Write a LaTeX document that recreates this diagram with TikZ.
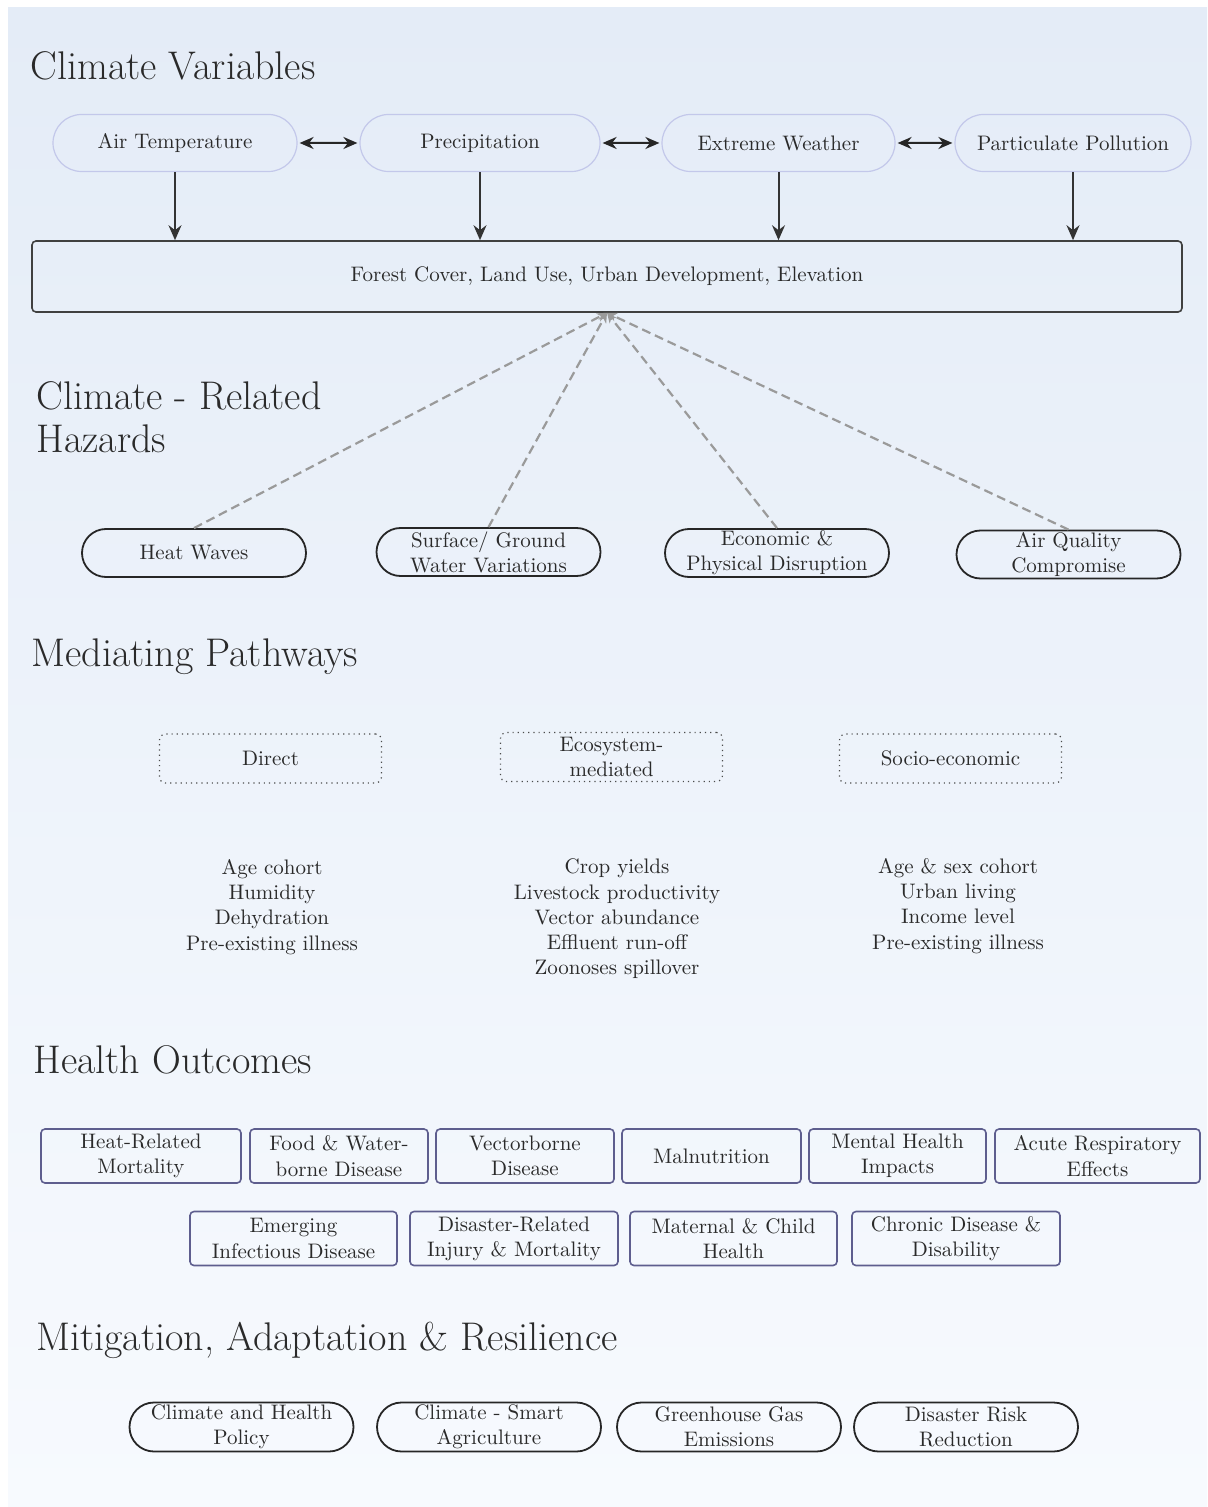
\documentclass[tikz,border=0pt]{standalone}
\usetikzlibrary{shapes.misc,arrows.meta}
\definecolor{inkgray}{HTML}{2A2A2A}
\definecolor{bgtop}{HTML}{E4ECF7}
\definecolor{bgbot}{HTML}{F7FAFE}
\definecolor{varedge}{HTML}{C3C8EA}
\definecolor{outedge}{HTML}{5E5E8E}
\definecolor{dashgray}{HTML}{9A9A9A}
\tikzset{
  txt/.style={font=\fontsize{10.5}{12.6}\selectfont, text=inkgray, align=center},
  heading/.style={anchor=base west, inner sep=0pt, font=\fontsize{20}{21.5}\selectfont, text=inkgray, align=left},
  varpill/.style={txt, rounded rectangle, draw=varedge, line width=0.6pt, minimum height=28.5pt, inner sep=0pt},
  hazpill/.style={txt, rounded rectangle, draw=black!85, line width=0.9pt, minimum width=112pt, minimum height=24pt, inner sep=0pt},
  pathbox/.style={txt, draw=black!70, dotted, line width=0.6pt, rounded corners=3pt, minimum width=111pt, minimum height=24.5pt, inner sep=0pt},
  outbox/.style={txt, draw=outedge, line width=0.8pt, rounded corners=2pt, minimum height=27pt, inner sep=0pt},
  duoarr/.style={{Stealth[length=7pt,width=6pt]}-{Stealth[length=7pt,width=6pt]}, line width=1pt, draw=black!85, shorten <=1pt, shorten >=1pt},
  downarr/.style={-{Stealth[length=7.5pt,width=6.5pt,inset=2.5pt]}, line width=1pt, draw=black!80},
  dasharr/.style={-{Stealth[length=5pt,width=4.5pt,inset=1.5pt]}, draw=dashgray, line width=1.1pt, dash pattern=on 4.5pt off 2.5pt}
}
\begin{document}
\begin{tikzpicture}[x=0.5pt, y=-0.5pt]
  \useasboundingbox (0,0) rectangle (1207,1507);
  \fill[white] (0,0) rectangle (1207,1507);
  \shade[top color=bgtop, bottom color=bgbot] (8,8) rectangle (1207,1507);

  \node[heading] (hcv) at (30,80) {Climate Variables};
  \node[heading] (hcr) at (36,453) {Climate - Related\\Hazards};
  \node[heading] (hmp) at (31,666) {Mediating Pathways};
  \node[heading] (hho) at (33,1073) {Health Outcomes};
  \node[heading] (hma) at (36,1350) {Mitigation, Adaptation \& Resilience};

  \node[varpill, minimum width=122pt] (at) at (175,143) {Air Temperature};
  \node[varpill, minimum width=120pt] (pr) at (480,143) {Precipitation};
  \node[varpill, minimum width=116.5pt] (ew) at (778.5,143) {Extreme Weather};
  \node[varpill, minimum width=118pt] (pp) at (1073,143) {Particulate Pollution};
  \draw[duoarr] (at) -- (pr);
  \draw[duoarr] (pr) -- (ew);
  \draw[duoarr] (ew) -- (pp);

  \node[txt, draw=black!75, line width=0.8pt, rounded corners=2pt, minimum width=575pt, minimum height=35.5pt] (fc) at (607,276.5) {Forest Cover, Land Use, Urban Development, Elevation};
  \foreach \v in {at,pr,ew,pp} { \draw[downarr] (\v.south) -- (\v.south |- fc.north); }

  \node[hazpill] (hw) at (194,553) {Heat Waves};
  \node[hazpill] (sg) at (488.5,552) {Surface/ Ground\\Water Variations};
  \node[hazpill] (ep) at (777,553) {Economic \&\\Physical Disruption};
  \node[hazpill] (aq) at (1068.5,554.5) {Air Quality\\Compromise};
  \foreach \h in {hw,sg,ep,aq} { \draw[dasharr] (\h.north) -- (fc.south); }

  \node[pathbox] (di) at (270.5,758.5) {Direct};
  \node[pathbox] (ec) at (611.5,757) {Ecosystem-\\mediated};
  \node[pathbox] (so) at (950.5,758.5) {Socio-economic};
  \node[txt] (dil) at (272,907) {Age cohort\\Humidity\\Dehydration\\Pre-existing illness};
  \node[txt] (ecl) at (617,919) {Crop yields\\Livestock productivity\\Vector abundance\\Effluent run-off\\Zoonoses spillover};
  \node[txt] (sol) at (958,906) {Age \& sex cohort\\Urban living\\Income level\\Pre-existing illness};

  \foreach \n/\cx/\cy/\w/\t in {
    hrm/141/1156/100pt/{Heat-Related\\Mortality},
    fwd/339/1156/89pt/{Food \& Water-\\borne Disease},
    vbd/525/1156/89pt/{Vectorborne\\Disease},
    mal/711.5/1156/89.5pt/{Malnutrition},
    mhi/897.5/1156/88.5pt/{Mental Health\\Impacts},
    are/1097.5/1156/102.5pt/{Acute Respiratory\\Effects},
    eid/293.5/1238.5/103.5pt/{Emerging\\Infectious Disease},
    drm/514/1238.5/104pt/{Disaster-Related\\Injury \& Mortality},
    mch/733.5/1238.5/103.5pt/{Maternal \& Child\\Health},
    cdd/956/1238.5/104pt/{Chronic Disease \&\\Disability}}
    { \node[outbox, minimum width=\w] (\n) at (\cx,\cy) {\t}; }

  \node[hazpill, minimum height=24.5pt] (chp) at (241.5,1427) {Climate and Health\\Policy};
  \node[hazpill, minimum height=24.5pt] (csa) at (489,1427) {Climate - Smart\\Agriculture};
  \node[hazpill, minimum height=24.5pt] (ghg) at (729,1427) {Greenhouse Gas\\Emissions};
  \node[hazpill, minimum height=24.5pt] (drr) at (966,1427) {Disaster Risk\\Reduction};
\end{tikzpicture}
\end{document}
